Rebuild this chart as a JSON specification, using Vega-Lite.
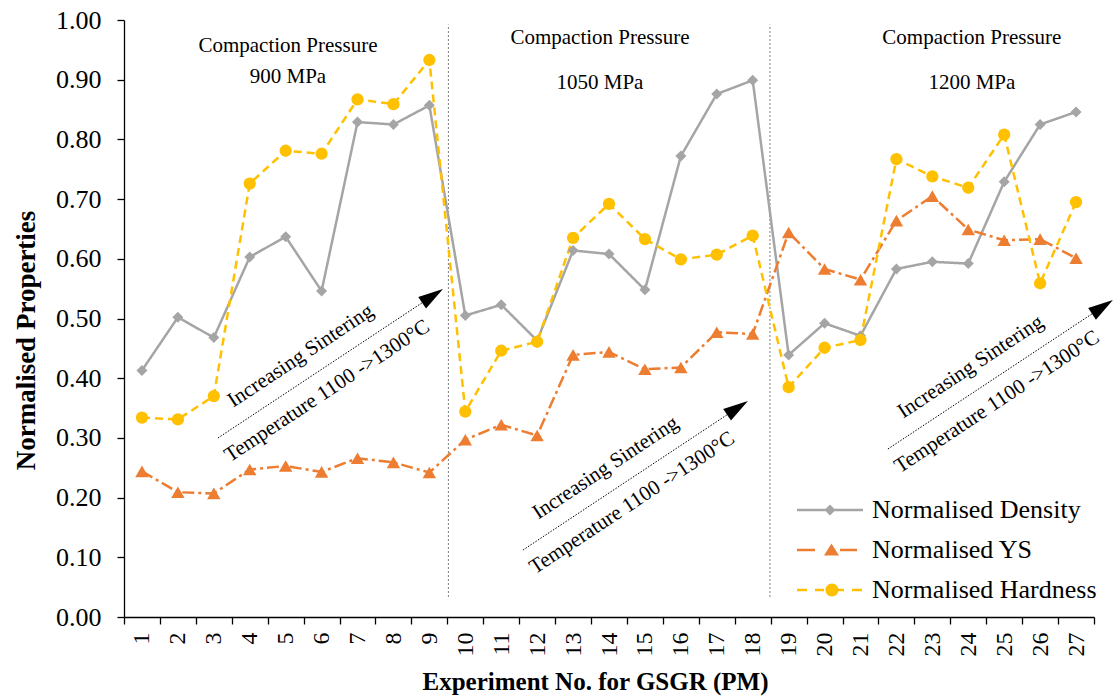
{
  "$schema": "https://vega.github.io/schema/vega-lite/v6.json",
  "width": 970,
  "height": 597,
  "autosize": {"type": "none"},
  "padding": {"left": 124, "top": 20, "right": 20, "bottom": 81},
  "config": {
    "view": {"stroke": null},
    "font": "Liberation Serif",
    "axis": {"labelColor": "#000", "titleColor": "#000", "domainColor": "#000", "tickColor": "#000", "grid": false, "labelFont": "Liberation Serif", "titleFont": "Liberation Serif", "domainWidth": 1.3, "tickWidth": 1.3},
    "legend": {"labelFont": "Liberation Serif", "titleFont": "Liberation Serif"}
  },
  "datasets": {
    "main": [
      {"e":1,"s":"Normalised Density","v":0.413},{"e":2,"s":"Normalised Density","v":0.502},{"e":3,"s":"Normalised Density","v":0.468},{"e":4,"s":"Normalised Density","v":0.603},{"e":5,"s":"Normalised Density","v":0.637},{"e":6,"s":"Normalised Density","v":0.546},{"e":7,"s":"Normalised Density","v":0.829},{"e":8,"s":"Normalised Density","v":0.825},{"e":9,"s":"Normalised Density","v":0.857},{"e":10,"s":"Normalised Density","v":0.505},{"e":11,"s":"Normalised Density","v":0.523},{"e":12,"s":"Normalised Density","v":0.463},{"e":13,"s":"Normalised Density","v":0.614},{"e":14,"s":"Normalised Density","v":0.608},{"e":15,"s":"Normalised Density","v":0.548},{"e":16,"s":"Normalised Density","v":0.772},{"e":17,"s":"Normalised Density","v":0.876},{"e":18,"s":"Normalised Density","v":0.899},{"e":19,"s":"Normalised Density","v":0.439},{"e":20,"s":"Normalised Density","v":0.492},{"e":21,"s":"Normalised Density","v":0.471},{"e":22,"s":"Normalised Density","v":0.583},{"e":23,"s":"Normalised Density","v":0.595},{"e":24,"s":"Normalised Density","v":0.592},{"e":25,"s":"Normalised Density","v":0.729},{"e":26,"s":"Normalised Density","v":0.825},{"e":27,"s":"Normalised Density","v":0.846},
      {"e":1,"s":"Normalised YS","v":0.244},{"e":2,"s":"Normalised YS","v":0.209},{"e":3,"s":"Normalised YS","v":0.207},{"e":4,"s":"Normalised YS","v":0.247},{"e":5,"s":"Normalised YS","v":0.253},{"e":6,"s":"Normalised YS","v":0.243},{"e":7,"s":"Normalised YS","v":0.266},{"e":8,"s":"Normalised YS","v":0.259},{"e":9,"s":"Normalised YS","v":0.242},{"e":10,"s":"Normalised YS","v":0.297},{"e":11,"s":"Normalised YS","v":0.322},{"e":12,"s":"Normalised YS","v":0.304},{"e":13,"s":"Normalised YS","v":0.439},{"e":14,"s":"Normalised YS","v":0.444},{"e":15,"s":"Normalised YS","v":0.415},{"e":16,"s":"Normalised YS","v":0.418},{"e":17,"s":"Normalised YS","v":0.477},{"e":18,"s":"Normalised YS","v":0.474},{"e":19,"s":"Normalised YS","v":0.644},{"e":20,"s":"Normalised YS","v":0.583},{"e":21,"s":"Normalised YS","v":0.565},{"e":22,"s":"Normalised YS","v":0.664},{"e":23,"s":"Normalised YS","v":0.705},{"e":24,"s":"Normalised YS","v":0.649},{"e":25,"s":"Normalised YS","v":0.631},{"e":26,"s":"Normalised YS","v":0.633},{"e":27,"s":"Normalised YS","v":0.601},
      {"e":1,"s":"Normalised Hardness","v":0.334},{"e":2,"s":"Normalised Hardness","v":0.331},{"e":3,"s":"Normalised Hardness","v":0.370},{"e":4,"s":"Normalised Hardness","v":0.726},{"e":5,"s":"Normalised Hardness","v":0.781},{"e":6,"s":"Normalised Hardness","v":0.776},{"e":7,"s":"Normalised Hardness","v":0.867},{"e":8,"s":"Normalised Hardness","v":0.859},{"e":9,"s":"Normalised Hardness","v":0.933},{"e":10,"s":"Normalised Hardness","v":0.344},{"e":11,"s":"Normalised Hardness","v":0.446},{"e":12,"s":"Normalised Hardness","v":0.461},{"e":13,"s":"Normalised Hardness","v":0.635},{"e":14,"s":"Normalised Hardness","v":0.692},{"e":15,"s":"Normalised Hardness","v":0.633},{"e":16,"s":"Normalised Hardness","v":0.599},{"e":17,"s":"Normalised Hardness","v":0.607},{"e":18,"s":"Normalised Hardness","v":0.639},{"e":19,"s":"Normalised Hardness","v":0.385},{"e":20,"s":"Normalised Hardness","v":0.451},{"e":21,"s":"Normalised Hardness","v":0.464},{"e":22,"s":"Normalised Hardness","v":0.767},{"e":23,"s":"Normalised Hardness","v":0.738},{"e":24,"s":"Normalised Hardness","v":0.719},{"e":25,"s":"Normalised Hardness","v":0.808},{"e":26,"s":"Normalised Hardness","v":0.559},{"e":27,"s":"Normalised Hardness","v":0.695}
    ],
    "dividers": [{"x": 9.53, "y": 0.0335, "y2": 0.9922}, {"x": 18.48, "y": 0.0335, "y2": 0.9922}],
    "arrows": [
      {"x": 3.114, "y": 0.2998, "x2": 9.089, "y2": 0.5379},
      {"x": 11.605, "y": 0.1122, "x2": 17.577, "y2": 0.3503},
      {"x": 21.763, "y": 0.2814, "x2": 27.736, "y2": 0.5194}
    ],
    "arrowtext": [
      {"x": 5.510, "y": 0.4288, "t": "Increasing Sintering"},
      {"x": 6.247, "y": 0.370, "t": "Temperature 1100 ->1300°C"},
      {"x": 13.998, "y": 0.2412, "t": "Increasing Sintering"},
      {"x": 14.736, "y": 0.1826, "t": "Temperature 1100 ->1300°C"},
      {"x": 24.157, "y": 0.4104, "t": "Increasing Sintering"},
      {"x": 24.895, "y": 0.3518, "t": "Temperature 1100 ->1300°C"}
    ],
    "compaction": [
      {"x": 5.064, "y": 0.9564, "t": "Compaction Pressure"},
      {"x": 5.064, "y": 0.9045, "t": "900 MPa"},
      {"x": 13.748, "y": 0.9698, "t": "Compaction Pressure"},
      {"x": 13.748, "y": 0.8945, "t": "1050 MPa"},
      {"x": 24.10, "y": 0.9698, "t": "Compaction Pressure"},
      {"x": 24.10, "y": 0.8945, "t": "1200 MPa"}
    ]
  },
  "layer": [
    {
      "layer": [
        {
          "data": {"name": "dividers"},
          "mark": {"type": "rule", "color": "#7f7f7f", "strokeWidth": 1, "strokeDash": [2, 2]},
          "encoding": {
            "x": {"field": "x", "type": "quantitative", "scale": {"domain": [0.5, 27.5], "nice": false, "zero": false}, "axis": null},
            "y": {"field": "y", "type": "quantitative", "scale": {"domain": [0, 1], "nice": false}, "axis": null},
            "y2": {"field": "y2"}
          }
        },
        {
          "data": {"name": "arrows"},
          "mark": {"type": "rule", "color": "#000", "strokeWidth": 1, "strokeDash": [1.5, 1.5]},
          "encoding": {
            "x": {"field": "x", "type": "quantitative", "scale": {"domain": [0.5, 27.5], "nice": false, "zero": false}, "axis": null},
            "y": {"field": "y", "type": "quantitative", "scale": {"domain": [0, 1], "nice": false}, "axis": null},
            "x2": {"field": "x2"},
            "y2": {"field": "y2"}
          }
        },
        {
          "data": {"name": "arrows"},
          "mark": {"type": "point", "filled": true, "color": "#000", "opacity": 1, "size": 625, "angle": -33.5, "shape": "M1,0L-1,-0.56L-1,0.56Z"},
          "encoding": {
            "x": {"field": "x2", "type": "quantitative", "scale": {"domain": [0.5, 27.5], "nice": false, "zero": false}, "axis": null},
            "y": {"field": "y2", "type": "quantitative", "scale": {"domain": [0, 1], "nice": false}, "axis": null}
          }
        },
        {
          "data": {"name": "arrowtext"},
          "mark": {"type": "text", "angle": -33.5, "align": "center", "baseline": "alphabetic", "font": "Liberation Serif", "fontSize": 21, "color": "#000"},
          "encoding": {
            "x": {"field": "x", "type": "quantitative", "scale": {"domain": [0.5, 27.5], "nice": false, "zero": false}, "axis": null},
            "y": {"field": "y", "type": "quantitative", "scale": {"domain": [0, 1], "nice": false}, "axis": null},
            "text": {"field": "t"}
          }
        },
        {
          "data": {"name": "compaction"},
          "mark": {"type": "text", "align": "center", "baseline": "middle", "font": "Liberation Serif", "fontSize": 21, "color": "#000"},
          "encoding": {
            "x": {"field": "x", "type": "quantitative", "scale": {"domain": [0.5, 27.5], "nice": false, "zero": false}, "axis": null},
            "y": {"field": "y", "type": "quantitative", "scale": {"domain": [0, 1], "nice": false}, "axis": null},
            "text": {"field": "t"}
          }
        }
      ]
    },
    {
      "data": {"name": "main"},
      "layer": [
        {
          "mark": {"type": "line", "strokeWidth": 2.5},
          "encoding": {
            "x": {"field": "e", "type": "ordinal", "bandPosition": 0.5, "scale": {"type": "band", "paddingInner": 0, "paddingOuter": 0},
              "axis": {"title": "Experiment No. for GSGR (PM)", "labelAngle": -90, "labelFont": "Liberation Serif", "labelFontSize": 24, "tickBand": "extent", "tickSize": 7, "labelPadding": 8, "titleFont": "Liberation Serif", "titleFontSize": 25, "titleFontWeight": "bold", "titlePadding": 13, "titleX": 471}},
            "y": {"field": "v", "type": "quantitative", "scale": {"domain": [0, 1], "nice": false},
              "axis": {"title": "Normalised Properties", "values": [0, 0.1, 0.2, 0.3, 0.4, 0.5, 0.6, 0.7, 0.8, 0.9, 1.0], "format": ".2f", "labelFont": "Liberation Serif", "labelFontSize": 26, "tickSize": 7, "labelPadding": 16, "titleFont": "Liberation Serif", "titleFontSize": 27, "titleFontWeight": "bold", "titlePadding": 15, "titleY": 320}},
            "color": {"field": "s", "type": "nominal",
              "scale": {"domain": ["Normalised Density", "Normalised YS", "Normalised Hardness"], "range": ["#A5A5A5", "#ED7D31", "#FFC000"]},
              "legend": {"title": null, "orient": "none", "legendX": 693, "legendY": 477, "padding": 0, "labelFont": "Liberation Serif", "labelFontSize": 26, "labelColor": "#000", "labelLimit": 0, "labelOffset": 29, "symbolSize": 100, "symbolStrokeWidth": 0, "rowPadding": 14,
                "encode": {"symbols": {"update": {
                  "shape": {"signal": "datum.value === 'Normalised Density' ? 'M-6.6,-0.25H6.6V0.25H-6.6Z M0,-1.1L1.1,0L0,1.1L-1.1,0Z' : datum.value === 'Normalised YS' ? 'M-6.6,-0.25H-3V0.25H-6.6Z M2,-0.25H5.4V0.25H2Z M0.3,-1.3L1.8,1.1L-1.2,1.1Z' : 'M-6.6,-0.25H-4.6V0.25H-6.6Z M-3,-0.25H-1.2V0.25H-3Z M1.4,-0.25H2.8V0.25H1.4Z M4.4,-0.25H6.4V0.25H4.4Z M-0.9,0A1.3,1.3,0,1,1,1.7,0A1.3,1.3,0,1,1,-0.9,0Z'"},
                  "fill": {"signal": "scale('color', datum.value)"},
                  "opacity": {"value": 1}
                }}}}},
            "strokeDash": {"field": "s", "type": "nominal", "scale": {"domain": ["Normalised YS", "Normalised Density", "Normalised Hardness"], "range": [[12, 4, 3, 4], [1, 0], [8, 5]]}, "legend": null}
          }
        },
        {
          "mark": {"type": "point", "filled": true, "opacity": 1},
          "encoding": {
            "x": {"field": "e", "type": "ordinal", "bandPosition": 0.5, "scale": {"type": "band", "paddingInner": 0, "paddingOuter": 0}},
            "y": {"field": "v", "type": "quantitative"},
            "color": {"field": "s", "type": "nominal"},
            "shape": {"field": "s", "type": "nominal", "scale": {"domain": ["Normalised Hardness", "Normalised Density", "Normalised YS"], "range": ["circle", "diamond", "triangle-up"]}, "legend": null},
            "size": {"field": "s", "type": "ordinal", "scale": {"domain": ["Normalised Density", "Normalised Hardness", "Normalised YS"], "range": [121, 180, 190]}, "legend": null}
          }
        }
      ]
    }
  ],
  "resolve": {"scale": {"x": "independent"}, "axis": {"y": "independent"}}
}
